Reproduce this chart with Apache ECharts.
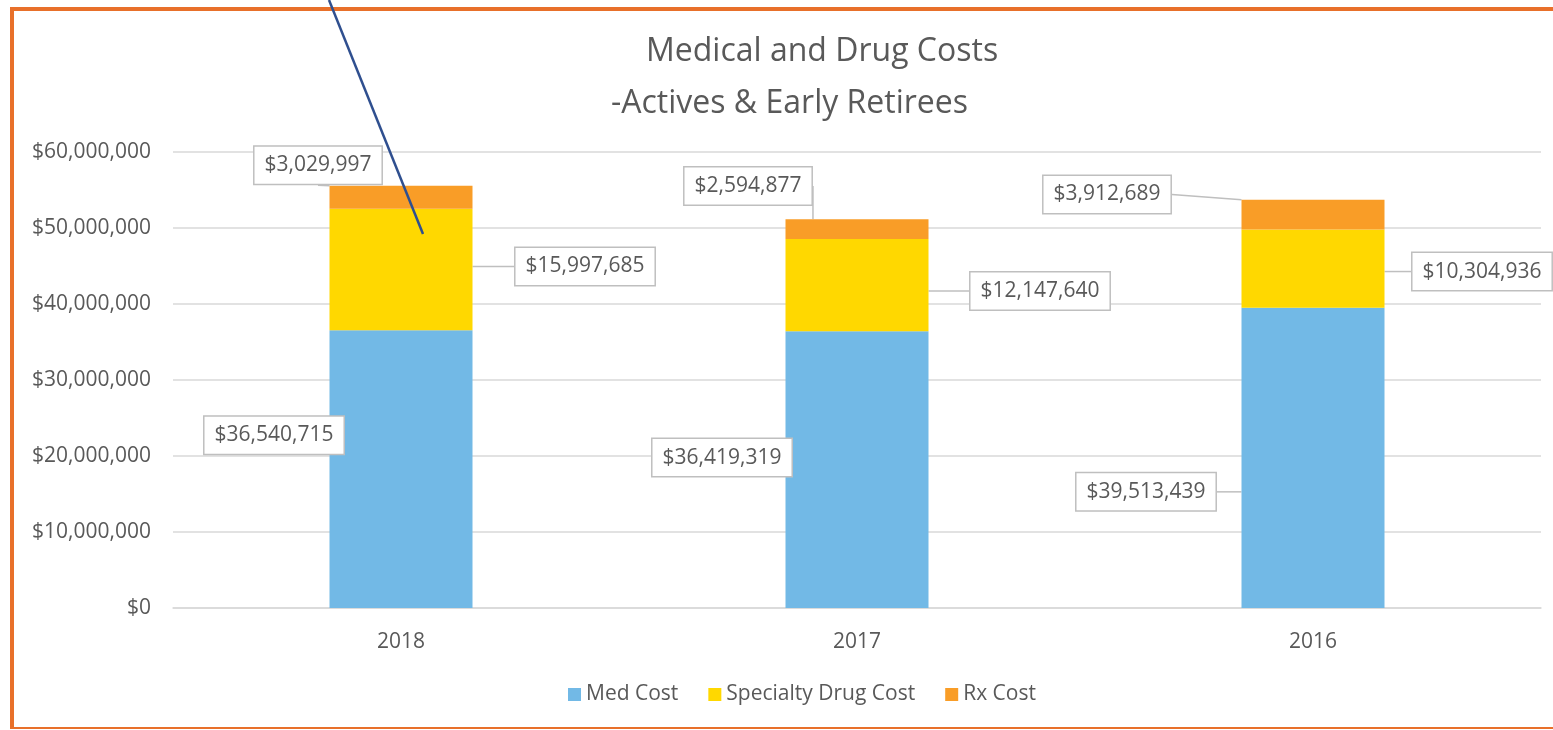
<!DOCTYPE html>
<html>
<head>
<meta charset="utf-8">
<script src="https://cdn.jsdelivr.net/npm/echarts@6/dist/echarts.min.js"></script>
<style>
    html, body {
        margin: 0;
        padding: 0;
        background: #fff;
    }
    #chart {
        width: 1553px;
        height: 730px;
    }
</style>
</head>
<body>
<div id="chart"></div>
<script>
// 年份 / 各项费用
const years = ['2018', '2017', '2016']
const medCost = [36540715, 36419319, 39513439]
const specialtyCost = [15997685, 12147640, 10304936]
const rxCost = [3029997, 2594877, 3912689]
const yTicks = [0, 10000000, 20000000, 30000000, 40000000, 50000000, 60000000]

// label 偏移 (相对柱段中心)
const labelOffsets = [
    [[-127, -34], [-135, -12], [-167, 34]],
    [[184, -3], [183, 6], [169, 3]],
    [[-83, -32], [-109, -43], [-206, -20]],
]

const textColor = '#595959'
const fontFamily = '"Open Sans", sans-serif'

const money = v => '$' + Math.round(v).toLocaleString('en-US')

function makeSeries(name, data, color, idx) {
    return {
        name: name,
        type: 'bar',
        stack: 'total',
        data: data,
        barWidth: 143,
        itemStyle: {
            color: color,
        },
        label: {
            show: true,
            position: 'inside',
            formatter: p => money(p.value),
            color: textColor,
            fontFamily: fontFamily,
            fontSize: 21,
            lineHeight: 23,
            backgroundColor: '#fff',
            borderColor: '#bfbfbf',
            borderWidth: 1.5,
            padding: [7, 10, 7, 10],
        },
        labelLine: {
            show: true,
            lineStyle: {
                color: '#bfbfbf',
                width: 1.5,
            },
        },
        labelLayout: params => {
            const off = labelOffsets[idx][params.dataIndex]
            return { dx: off[0], dy: off[1] }
        },
        emphasis: { disabled: true },
    }
}

const chart = echarts.init(document.getElementById('chart'))

const option = {
    animation: false,
    backgroundColor: '#fff',
    title: [
        {
            text: 'Medical and Drug Costs',
            left: 641,
            top: 31,
            textStyle: { color: textColor, fontFamily: fontFamily, fontSize: 32, fontWeight: 'normal' },
        },
        {
            text: '-Actives & Early Retirees',
            left: 606,
            top: 83,
            textStyle: { color: textColor, fontFamily: fontFamily, fontSize: 32, fontWeight: 'normal' },
        },
    ],
    legend: {
        bottom: 20,
        left: 563,
        itemWidth: 13,
        itemHeight: 13,
        itemGap: 30,
        icon: 'rect',
        textStyle: { color: textColor, fontFamily: fontFamily, fontSize: 21 },
        data: ['Med Cost', 'Specialty Drug Cost', 'Rx Cost'],
    },
    grid: {
        left: 173,
        right: 12,
        top: 152,
        bottom: 122,
    },
    xAxis: {
        type: 'category',
        data: years,
        axisTick: { show: false },
        axisLine: { lineStyle: { color: '#d9d9d9', width: 1.5 } },
        axisLabel: { color: textColor, fontFamily: fontFamily, fontSize: 21, margin: 24 },
    },
    yAxis: {
        type: 'value',
        min: yTicks[0],
        max: yTicks[yTicks.length - 1],
        interval: yTicks[1] - yTicks[0],
        axisLine: { show: false },
        axisTick: { show: false },
        axisLabel: { color: textColor, fontFamily: fontFamily, fontSize: 21, margin: 22, formatter: money },
        splitLine: { lineStyle: { color: '#d9d9d9', width: 1.5 } },
    },
    graphic: [
        // 外框
        { type: 'rect', shape: { x: 10, y: 7, width: 4, height: 722 }, style: { fill: '#e8702a' }, silent: true },
        { type: 'rect', shape: { x: 10, y: 7, width: 1543, height: 4 }, style: { fill: '#e8702a' }, silent: true },
        { type: 'rect', shape: { x: 10, y: 727, width: 1543, height: 2 }, style: { fill: '#e8702a' }, silent: true },
        // 指示线
        {
            type: 'line',
            shape: { x1: 329, y1: 0, x2: 423, y2: 234 },
            style: { stroke: '#2f4f8f', lineWidth: 2.5 },
            z: 100,
            silent: true,
        },
    ],
    series: [
        makeSeries('Med Cost', medCost, '#72b9e6', 0),
        makeSeries('Specialty Drug Cost', specialtyCost, '#ffd800', 1),
        makeSeries('Rx Cost', rxCost, '#f99d27', 2),
    ],
}
chart.setOption(option)
</script>
</body>
</html>
